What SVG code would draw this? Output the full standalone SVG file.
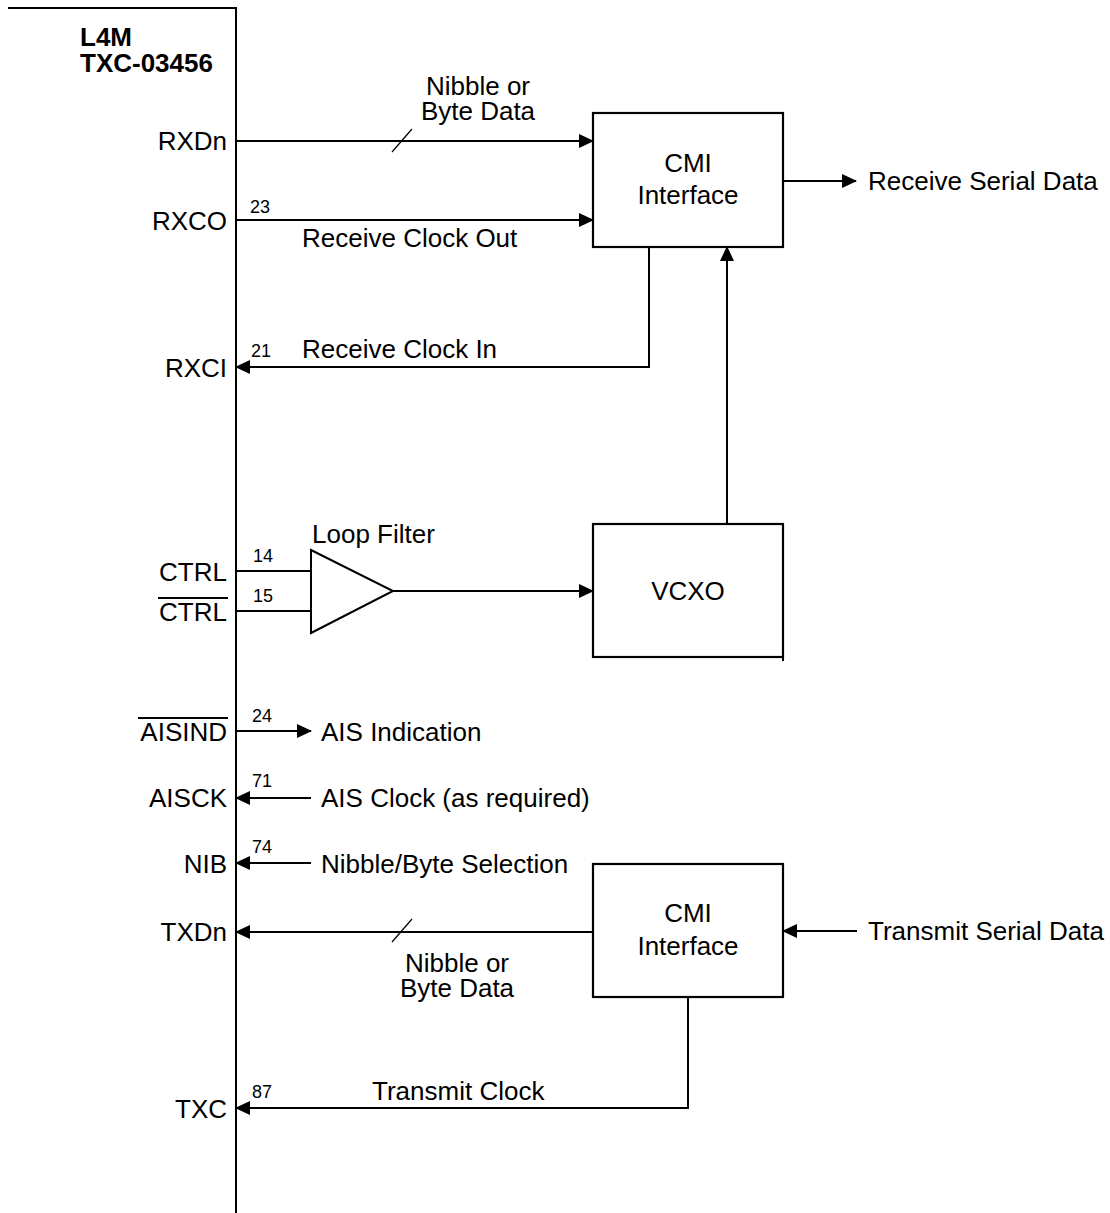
<svg xmlns="http://www.w3.org/2000/svg" width="1110" height="1213" viewBox="0 0 1110 1213">
<defs>
<marker id="ah" viewBox="0 0 15 14" refX="14" refY="7" markerWidth="15" markerHeight="14" markerUnits="userSpaceOnUse" orient="auto">
<path d="M0,0 L15,7 L0,14 z" fill="#000"/>
</marker>
<style>
.ln{stroke:#000;stroke-width:2;fill:none}
.ar{stroke:#000;stroke-width:2;fill:none;marker-end:url(#ah)}
.bx{stroke:#000;stroke-width:2.2;fill:#fff}
text{font-family:"Liberation Sans",Arial,sans-serif;fill:#000}
.t{font-size:26px}
.n{font-size:18px}
.b{font-size:26px;font-weight:bold}
.r{text-anchor:end}
.c{text-anchor:middle}
</style>
</defs>
<rect width="1110" height="1213" fill="#fff"/>

<g id="device">
<path class="ln" d="M8,8 H236 V1213"/>
<text class="b" x="80" y="46">L4M</text>
<text class="b" x="80" y="72">TXC-03456</text>
<text class="t r" x="227" y="150">RXDn</text>
<text class="t r" x="227" y="230">RXCO</text>
<text class="t r" x="227" y="377">RXCI</text>
<text class="t r" x="227" y="581">CTRL</text>
<text class="t r" x="227" y="621">CTRL</text>
<line class="ln" x1="158" y1="598" x2="228" y2="598"/>
<text class="t r" x="227" y="741">AISIND</text>
<line class="ln" x1="138" y1="718" x2="228" y2="718"/>
<text class="t r" x="227" y="807">AISCK</text>
<text class="t r" x="227" y="873">NIB</text>
<text class="t r" x="227" y="941">TXDn</text>
<text class="t r" x="227" y="1118">TXC</text>
</g>

<g id="cmi-rx">
<rect class="bx" x="593" y="113" width="190" height="134"/>
<text class="t c" x="688" y="172">CMI</text>
<text class="t c" x="688" y="204">Interface</text>
</g>

<g id="vcxo">
<rect class="bx" x="593" y="524" width="190" height="133"/>
<line class="ln" x1="783" y1="657" x2="783" y2="661"/>
<text class="t c" x="688" y="600">VCXO</text>
</g>

<g id="loop-filter">
<polygon class="ln" points="311,550 393,591 311,633"/>
<text class="t" x="312" y="543">Loop Filter</text>
</g>

<g id="cmi-tx">
<rect class="bx" x="593" y="864" width="190" height="133"/>
<text class="t c" x="688" y="922">CMI</text>
<text class="t c" x="688" y="955">Interface</text>
</g>

<g id="connectors">
<line class="ar" x1="236" y1="141" x2="593" y2="141"/>
<line class="ln" x1="392" y1="152" x2="412" y2="129" style="stroke-width:1.2"/>
<text class="t c" x="478" y="95">Nibble or</text>
<text class="t c" x="478" y="120">Byte Data</text>
<line class="ar" x1="236" y1="220" x2="593" y2="220"/>
<text class="n" x="250" y="213">23</text>
<text class="t" x="302" y="247">Receive Clock Out</text>
<line class="ar" x1="783" y1="181" x2="856" y2="181"/>
<text class="t" x="868" y="190">Receive Serial Data</text>
<path class="ar" d="M649,247 V367 H236"/>
<text class="n" x="251" y="357">21</text>
<text class="t" x="302" y="358">Receive Clock In</text>
<line class="ar" x1="727" y1="524" x2="727" y2="247"/>
<line class="ln" x1="236" y1="571" x2="311" y2="571"/>
<line class="ln" x1="236" y1="611" x2="311" y2="611"/>
<text class="n" x="253" y="562">14</text>
<text class="n" x="253" y="602">15</text>
<line class="ar" x1="393" y1="591" x2="593" y2="591"/>
<line class="ar" x1="236" y1="731" x2="311" y2="731"/>
<text class="n" x="252" y="722">24</text>
<text class="t" x="321" y="741">AIS Indication</text>
<line class="ar" x1="311" y1="798" x2="236" y2="798"/>
<text class="n" x="252" y="787">71</text>
<text class="t" x="321" y="807">AIS Clock (as required)</text>
<line class="ar" x1="311" y1="863" x2="236" y2="863"/>
<text class="n" x="252" y="853">74</text>
<text class="t" x="321" y="873">Nibble/Byte Selection</text>
<line class="ar" x1="593" y1="932" x2="236" y2="932"/>
<line class="ln" x1="392" y1="942" x2="412" y2="919" style="stroke-width:1.2"/>
<text class="t c" x="457" y="972">Nibble or</text>
<text class="t c" x="457" y="997">Byte Data</text>
<line class="ar" x1="857" y1="931" x2="783" y2="931"/>
<text class="t" x="868" y="940">Transmit Serial Data</text>
<path class="ar" d="M688,997 V1108 H236"/>
<text class="n" x="252" y="1098">87</text>
<text class="t" x="372" y="1100">Transmit Clock</text>
</g>
</svg>
